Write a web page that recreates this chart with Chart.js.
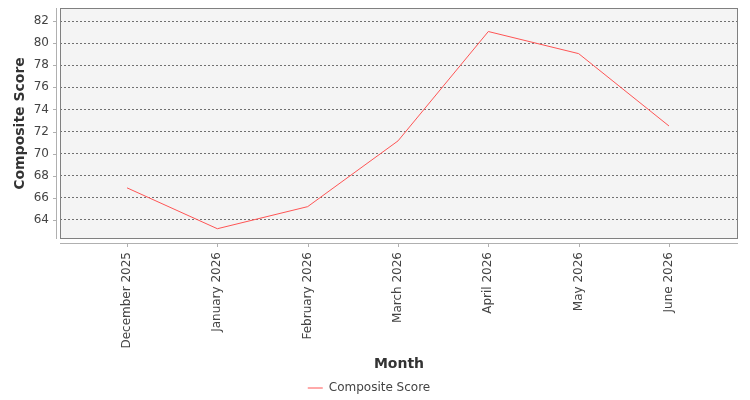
<!DOCTYPE html>
<html>
<head>
<meta charset="utf-8">
<script src="https://cdn.jsdelivr.net/npm/chart.js@4"></script>
<style>
  body { margin: 0; background: #ffffff; }
  #wrap { width: 750px; height: 400px; }
</style>
</head>
<body>
<div id="wrap"><canvas id="scoreChart" width="750" height="400"></canvas></div>
<script>
const months = ['December 2025', 'January 2026', 'February 2026', 'March 2026', 'April 2026', 'May 2026', 'June 2026'];
const compositeScore = [66.9, 63.2, 65.2, 71.15, 81.05, 79.05, 72.5];
const yTicks = [64, 66, 68, 70, 72, 74, 76, 78, 80, 82];

const tickFont = { family: 'DejaVu Sans', size: 12 };
const titleFont = { family: 'DejaVu Sans', size: 14, weight: 'bold' };

// plot background, frame and the offset axis lines (JFreeChart look)
const plotFrame = {
  id: 'plotFrame',
  beforeDraw(chart) {
    const { ctx, chartArea: a } = chart;
    ctx.save();
    ctx.fillStyle = '#f4f4f4';
    ctx.fillRect(a.left, a.top, a.right - a.left, a.bottom - a.top);
    ctx.restore();
  },
  afterDatasetsDraw(chart) {
    const { ctx, chartArea: a, scales } = chart;
    ctx.save();
    ctx.lineWidth = 1;
    ctx.strokeStyle = '#808080';
    ctx.strokeRect(a.left + 0.5, a.top + 0.5, a.right - a.left - 1, a.bottom - a.top - 1);

    ctx.strokeStyle = '#b0b0b0';
    ctx.beginPath();
    ctx.moveTo(a.left - 3.5, a.top);
    ctx.lineTo(a.left - 3.5, a.bottom);
    ctx.moveTo(a.left, a.bottom + 4.5);
    ctx.lineTo(a.right, a.bottom + 4.5);
    scales.y.ticks.forEach(t => {
      const py = Math.round(scales.y.getPixelForValue(t.value)) + 0.5;
      ctx.moveTo(a.left - 7, py);
      ctx.lineTo(a.left - 3.5, py);
    });
    scales.x.ticks.forEach(t => {
      const px = Math.round(scales.x.getPixelForValue(t.value)) + 0.5;
      ctx.moveTo(px, a.bottom + 4.5);
      ctx.lineTo(px, a.bottom + 8);
    });
    ctx.stroke();
    ctx.restore();
  }
};

new Chart(document.getElementById('scoreChart'), {
  type: 'line',
  data: {
    datasets: [{
      label: 'Composite Score',
      data: compositeScore.map((v, i) => ({ x: i, y: v })),
      borderColor: '#ff5555',
      backgroundColor: '#ff5555',
      borderWidth: 1,
      pointRadius: 0,
      tension: 0
    }]
  },
  options: {
    responsive: false,
    animation: false,
    layout: { padding: { top: 8, right: 12, left: 0, bottom: -4 } },
    scales: {
      x: {
        type: 'linear',
        min: -0.742,
        max: 6.764,
        afterBuildTicks(scale) {
          scale.ticks = months.map((m, i) => ({ value: i }));
        },
        afterFit(scale) {
          scale.height = 134;
          scale.paddingLeft = 0;
          scale.paddingRight = 0;
        },
        grid: { display: false },
        border: { display: false },
        ticks: {
          autoSkip: false,
          includeBounds: false,
          minRotation: 90,
          maxRotation: 90,
          padding: 5,
          color: '#444444',
          font: tickFont,
          callback: v => months[v]
        },
        title: {
          display: true,
          text: 'Month',
          color: '#333333',
          font: titleFont,
          padding: { top: 8, bottom: 0 }
        }
      },
      y: {
        min: 62.27,
        max: 83.18,
        afterBuildTicks(scale) {
          scale.ticks = yTicks.map(v => ({ value: v }));
        },
        afterFit(scale) {
          scale.width = 60;
          scale.paddingTop = 0;
          scale.paddingBottom = 0;
        },
        border: { display: false, dash: [2, 2] },
        grid: {
          color: '#707070',
          lineWidth: 1,
          drawTicks: false
        },
        ticks: {
          includeBounds: false,
          padding: 11,
          color: '#444444',
          font: tickFont
        },
        title: {
          display: true,
          text: 'Composite Score',
          color: '#333333',
          font: titleFont,
          padding: { top: 12, bottom: 0 }
        }
      }
    },
    plugins: {
      legend: {
        position: 'bottom',
        labels: {
          usePointStyle: true,
          pointStyle: 'line',
          pointStyleWidth: 15,
          boxHeight: 12,
          padding: 9,
          color: '#444444',
          font: tickFont
        }
      },
      tooltip: { enabled: false }
    }
  },
  plugins: [plotFrame]
});
</script>
</body>
</html>
